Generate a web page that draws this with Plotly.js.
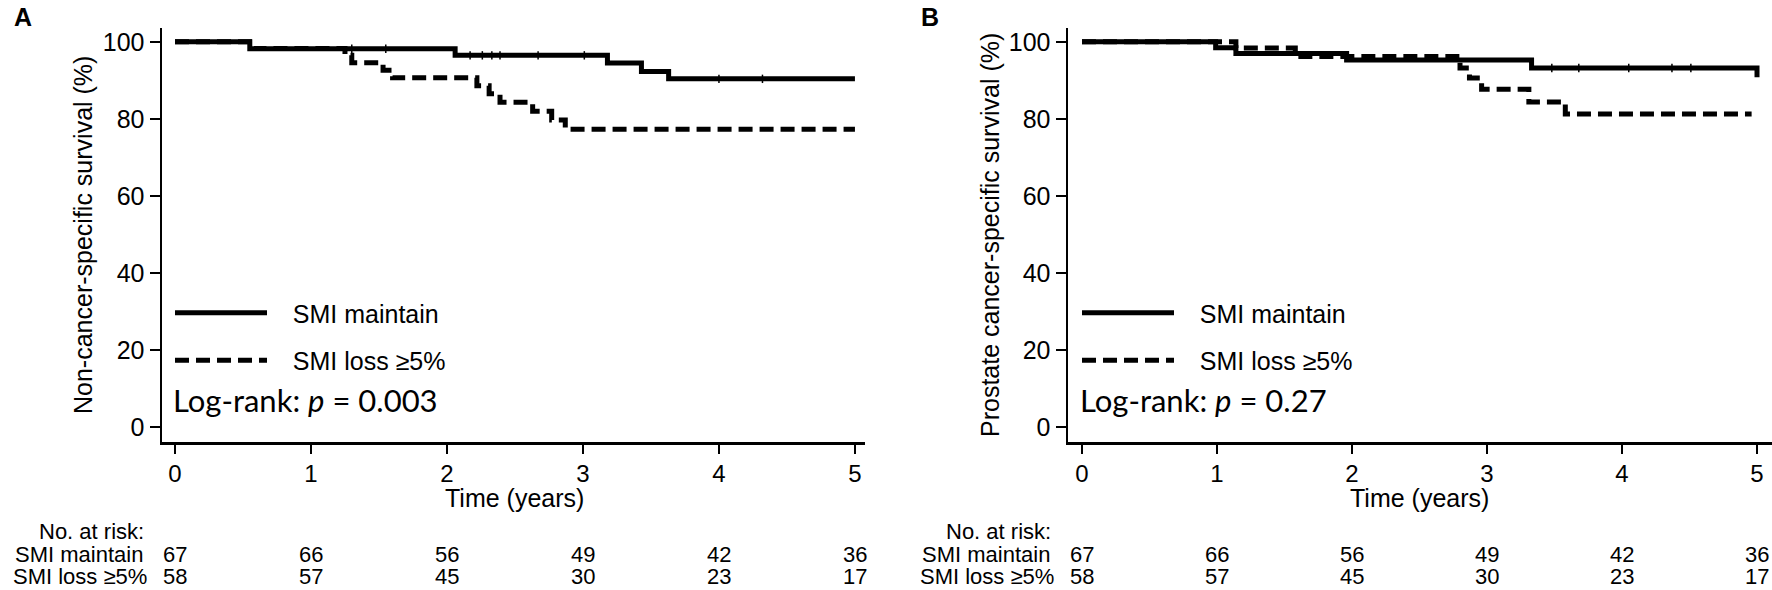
<!DOCTYPE html>
<html>
<head>
<meta charset="utf-8">
<script src="https://cdn.plot.ly/plotly-3.0.1.min.js"></script>
<style>html,body{margin:0;padding:0;background:#fff;}#chart{width:1772px;height:590px;}</style>
</head>
<body>
<div id="chart"></div>
<script>
// ---------------- DATA ----------------
const xTicks = [0, 1, 2, 3, 4, 5];
const yTicks = [0, 20, 40, 60, 80, 100];

// Panel A: Non-cancer-specific survival
const aMaintainTime = [0, 0.55, 2.06, 3.18, 3.43, 3.63, 5.0];
const aMaintainSurv = [100, 98.2, 96.5, 94.5, 92.3, 90.4, 90.4];
const aLossTime = [0, 0.58, 1.25, 1.30, 1.53, 1.60, 2.22, 2.31, 2.39, 2.63, 2.77, 2.87, 5.0];
const aLossSurv = [100, 98.3, 96.5, 94.6, 92.6, 90.7, 88.6, 86.5, 84.3, 82.0, 79.7, 77.3, 77.3];
const aMaintainCensor = [1.3, 1.55, 2.17, 2.26, 2.33, 2.39, 2.67, 3.01, 4.0, 4.32];
const aLossCensor = [];

// Panel B: Prostate cancer-specific survival
const bMaintainTime = [0, 0.99, 1.14, 1.96, 3.33, 5.0];
const bMaintainSurv = [100, 98.5, 97.0, 95.3, 93.2, 90.8];
const bLossTime = [0, 1.14, 1.58, 2.80, 2.87, 2.96, 3.31, 3.58, 4.96];
const bLossSurv = [100, 98.4, 96.2, 93.2, 90.6, 87.7, 84.4, 81.3, 81.3];
const bMaintainCensor = [3.48, 3.68, 4.05, 4.37, 4.51];
const bLossCensor = [];

// Number at risk
const riskTimes = [0, 1, 2, 3, 4, 5];
const aRiskMaintain = [67, 66, 56, 49, 42, 36];
const aRiskLoss = [58, 57, 45, 30, 23, 17];
const bRiskMaintain = [67, 66, 56, 49, 42, 36];
const bRiskLoss = [58, 57, 45, 30, 23, 17];

const groupNames = ['SMI maintain', 'SMI loss \u22655%'];
const panelLabels = ['A', 'B'];
const yTitles = ['Non-cancer-specific survival (%)', 'Prostate cancer-specific survival (%)'];
const xTitle = 'Time (years)';
const pValues = ['0.003', '0.27'];

// ---------------- HELPERS ----------------
const W = 1772, H = 590;
const FONT = 'Liberation Sans, Arial, sans-serif';
const px = v => v / W;
const py = v => 1 - v / H;
function stepAt(times, surv, t) {
  let s = surv[0];
  for (let i = 0; i < times.length; i++) { if (times[i] <= t) s = surv[i]; }
  return s;
}
const DASH = '14px,7px';
const LEGEND_PAD = '\u00a0\u00a0\u00a0';

function curve(t, s, name, dashed, xa, ya, legend, group) {
  return {
    x: t, y: s, type: 'scatter', mode: 'lines', name: LEGEND_PAD + name,
    line: {shape: 'hv', color: '#000', width: 5, dash: dashed ? DASH : 'solid'},
    xaxis: xa, yaxis: ya, legend: legend, legendgroup: group, hoverinfo: 'skip'
  };
}
function censor(ct, t, s, xa, ya) {
  return {
    x: ct, y: ct.map(c => stepAt(t, s, c)), type: 'scatter', mode: 'markers',
    marker: {symbol: 'line-ns-open', size: 6, color: '#000', line: {color: '#000', width: 1.5}},
    xaxis: xa, yaxis: ya, showlegend: false, hoverinfo: 'skip'
  };
}

const data = [
  curve(aMaintainTime, aMaintainSurv, groupNames[0], false, 'x', 'y', 'legend', 'a1'),
  curve(aLossTime, aLossSurv, groupNames[1], true, 'x', 'y', 'legend', 'a2'),
  censor(aMaintainCensor, aMaintainTime, aMaintainSurv, 'x', 'y'),
  curve(bMaintainTime, bMaintainSurv, groupNames[0], false, 'x2', 'y2', 'legend2', 'b1'),
  curve(bLossTime, bLossSurv, groupNames[1], true, 'x2', 'y2', 'legend2', 'b2'),
  censor(bMaintainCensor, bMaintainTime, bMaintainSurv, 'x2', 'y2')
];
if (aLossCensor.length) data.push(censor(aLossCensor, aLossTime, aLossSurv, 'x', 'y'));
if (bLossCensor.length) data.push(censor(bLossCensor, bLossTime, bLossSurv, 'x2', 'y2'));

const yDomain = [py(442), py(28)];
const yRange = [-3.9, 103.6];

function xAxis(domain, range, anchor) {
  return {
    domain: domain, range: range, anchor: anchor,
    showline: true, linecolor: '#000', linewidth: 2.5, mirror: false,
    ticks: 'outside', ticklen: 9, tickwidth: 2.5, tickcolor: '#000',
    tickvals: xTicks, ticktext: xTicks.map(String),
    tickfont: {family: FONT, size: 24, color: '#000'},
    showgrid: false, zeroline: false, fixedrange: true
  };
}
function yAxis(anchor) {
  return {
    domain: yDomain, range: yRange, anchor: anchor,
    showline: true, linecolor: '#000', linewidth: 2.5,
    ticks: 'outside', ticklen: 10, tickwidth: 2.5, tickcolor: '#000',
    tickvals: yTicks, ticktext: yTicks.map(String),
    tickfont: {family: FONT, size: 25, color: '#000'},
    showgrid: false, zeroline: false, fixedrange: true
  };
}

const offsetB = 907;
const RISK_FONT = {family: FONT, size: 22, color: '#000'};
const annotations = [];
const panels = [
  {xref: 'x', off: 0, rm: aRiskMaintain, rl: aRiskLoss},
  {xref: 'x2', off: offsetB, rm: bRiskMaintain, rl: bRiskLoss}
];
panels.forEach((p, i) => {
  annotations.push({xref: 'paper', yref: 'paper', x: px(12 + p.off), y: py(17), xanchor: 'left', yanchor: 'middle',
    text: '<b>' + panelLabels[i] + '</b>', showarrow: false, font: {family: FONT, size: 25, color: '#000'}});
  annotations.push({xref: 'paper', yref: 'paper', x: px(83 + p.off), y: py(235), xanchor: 'center', yanchor: 'middle',
    textangle: -90, text: yTitles[i], showarrow: false, font: {family: FONT, size: 25, color: '#000'}});
  annotations.push({xref: p.xref, yref: 'paper', x: 2.5, y: py(498), xanchor: 'center', yanchor: 'middle',
    text: xTitle, showarrow: false, font: {family: FONT, size: 25, color: '#000'}});
  annotations.push({xref: 'paper', yref: 'paper', x: px(171 + p.off), y: py(400), xanchor: 'left', yanchor: 'middle',
    text: 'Log-rank: <i>p</i> = ' + pValues[i], showarrow: false, font: {family: 'Lato, Open Sans, sans-serif', size: 31, color: '#000'}});
  annotations.push({xref: 'paper', yref: 'paper', x: px(146 + p.off), y: py(531), xanchor: 'right', yanchor: 'middle',
    text: 'No. at risk:', showarrow: false, font: RISK_FONT});
  annotations.push({xref: 'paper', yref: 'paper', x: px(145 + p.off), y: py(554), xanchor: 'right', yanchor: 'middle',
    text: groupNames[0], showarrow: false, font: RISK_FONT});
  annotations.push({xref: 'paper', yref: 'paper', x: px(149 + p.off), y: py(576), xanchor: 'right', yanchor: 'middle',
    text: groupNames[1], showarrow: false, font: RISK_FONT});
  riskTimes.forEach((t, k) => {
    annotations.push({xref: p.xref, yref: 'paper', x: t, y: py(554), xanchor: 'center', yanchor: 'middle',
      text: String(p.rm[k]), showarrow: false, font: RISK_FONT});
    annotations.push({xref: p.xref, yref: 'paper', x: t, y: py(576), xanchor: 'center', yanchor: 'middle',
      text: String(p.rl[k]), showarrow: false, font: RISK_FONT});
  });
});

function legendCfg(xPx) {
  return {
    x: px(xPx), y: py(290), xanchor: 'left', yanchor: 'top',
    bgcolor: 'rgba(0,0,0,0)', borderwidth: 0,
    font: {family: FONT, size: 25, color: '#000'},
    itemwidth: 92, traceorder: 'grouped', tracegroupgap: 12,
    itemclick: false, itemdoubleclick: false
  };
}

const layout = {
  width: W, height: H,
  margin: {l: 0, r: 0, t: 0, b: 0, pad: 0},
  paper_bgcolor: '#fff', plot_bgcolor: '#fff',
  showlegend: true,
  xaxis: xAxis([px(162), px(865)], [-0.0956, 5.074], 'y'),
  yaxis: yAxis('x'),
  xaxis2: xAxis([px(1068), 1], [-0.1037, 5.111], 'y2'),
  yaxis2: yAxis('x2'),
  legend: legendCfg(170),
  legend2: legendCfg(170 + offsetB),
  annotations: annotations
};

Plotly.newPlot('chart', data, layout, {displayModeBar: false, staticPlot: true});
</script>
</body>
</html>
